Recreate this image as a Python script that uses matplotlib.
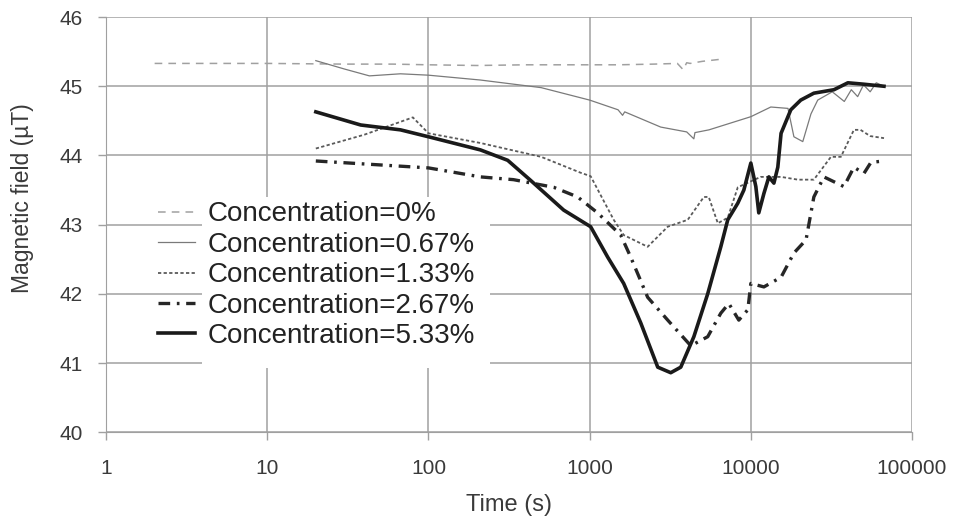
import matplotlib.pyplot as plt
from matplotlib.patches import Rectangle

plt.rcParams['font.family'] = ['Liberation Sans', 'DejaVu Sans']

# concentration 0 %
t0 = [2, 5, 10, 30, 60, 100, 200, 400, 800, 1500, 2500, 3500, 3800, 4000, 4200, 5000, 6500]
b0 = [45.33, 45.33, 45.33, 45.32, 45.32, 45.31, 45.30, 45.31, 45.31, 45.31, 45.32, 45.33, 45.24, 45.34, 45.33, 45.36, 45.39]

# concentration 0.67 %
t1 = [20, 30, 43, 67, 100, 210, 500, 1000, 1500, 1600, 1650, 2760, 4000, 4430, 4500, 5500, 10000, 13300,
      17000, 18500, 21000, 23600, 26000, 32000, 38000, 42000, 46000, 50000, 55000, 60000, 67000]
b1 = [45.37, 45.25, 45.15, 45.18, 45.16, 45.09, 44.98, 44.80, 44.66, 44.58, 44.63, 44.41, 44.34, 44.24, 44.33, 44.37, 44.56, 44.70,
      44.68, 44.27, 44.20, 44.60, 44.80, 44.92, 44.78, 44.95, 44.85, 45.02, 44.92, 45.05, 45.00]

# concentration 1.33 %
t2 = [20, 40, 80, 100, 210, 500, 879, 1014, 1410, 1626, 2290, 3050, 4060, 5110, 5480, 6240, 7190, 8300,
      11500, 15400, 19600, 24600, 31400, 36200, 43600, 47900, 55000, 67000]
b2 = [44.10, 44.30, 44.55, 44.32, 44.18, 43.98, 43.75, 43.70, 43.07, 42.85, 42.68, 42.97, 43.07, 43.40, 43.40, 43.02, 43.10, 43.54,
      43.69, 43.69, 43.65, 43.65, 43.98, 43.98, 44.37, 44.37, 44.28, 44.25]

# concentration 2.67 %
t3 = [20, 100, 210, 337, 598, 842, 1120, 1558, 1798, 2290, 3050, 4240, 5400, 6510, 7300, 8420, 9580, 10000,
      12050, 15400, 18500, 22000, 24600, 28400, 37800, 43600, 50300, 55600, 67000]
b3 = [43.92, 43.82, 43.69, 43.65, 43.54, 43.40, 43.17, 42.85, 42.53, 41.95, 41.62, 41.25, 41.38, 41.72, 41.86, 41.62, 41.77, 42.15,
      42.10, 42.24, 42.59, 42.78, 43.40, 43.69, 43.55, 43.83, 43.74, 43.90, 43.92]

# concentration 5.33 %
t4 = [20, 38, 67, 100, 210, 310, 430, 690, 1014, 1294, 1626, 2074, 2645, 3185, 3675, 4430, 5400, 6510, 7190, 8300,
      9050, 10000, 10740, 11200, 12050, 12940, 13900, 14700, 15400, 17700, 20400, 24600, 32800, 40000, 50000, 67000]
b4 = [44.63, 44.44, 44.37, 44.27, 44.08, 43.93, 43.64, 43.21, 42.97, 42.53, 42.15, 41.58, 40.94, 40.86, 40.94, 41.38, 42.00, 42.68, 43.07, 43.31,
      43.50, 43.89, 43.55, 43.17, 43.45, 43.69, 43.60, 43.83, 44.32, 44.66, 44.80, 44.90, 44.95, 45.05, 45.03, 45.00]

labels = ['Concentration=0%', 'Concentration=0.67%', 'Concentration=1.33%',
          'Concentration=2.67%', 'Concentration=5.33%']
x_ticks = [1, 10, 100, 1000, 10000, 100000]

fig = plt.figure(figsize=(9.56, 5.17), dpi=100)
ax = fig.add_axes([0.111, 0.164, 0.843, 0.803])

ax.plot(t0, b0, color='#a0a0a0', lw=1.1, dashes=(5, 4), label=labels[0])
ax.plot(t1, b1, color='#7a7a7a', lw=0.9, label=labels[1])
ax.plot(t2, b2, color='#5a5a5a', lw=1.3, dashes=(1.8, 1.3), label=labels[2])
ax.plot(t3, b3, color='#262626', lw=2.4, dashes=(3.5, 2.0, 0.8, 2.0), label=labels[3])
ax.plot(t4, b4, color='#1a1a1a', lw=2.6, label=labels[4])

ax.set_xscale('log')
ax.set_xlim(1, 100000)
ax.set_ylim(40, 46)
ax.set_xticks(x_ticks)
ax.set_xticklabels([str(v) for v in x_ticks])
ax.minorticks_off()
ax.set_yticks(range(40, 47))
ax.grid(True, color='#a0a0a0', lw=1.1)
for s in ['top', 'right']:
    ax.spines[s].set_visible(False)
for s in ['left', 'bottom']:
    ax.spines[s].set_color('#a0a0a0')
ax.tick_params(colors='#a0a0a0', labelcolor='#3a3a3a', labelsize=15, length=6, width=1)
ax.tick_params(axis='x', pad=13)
ax.tick_params(axis='y', pad=11)

ax.set_xlabel('Time (s)', fontsize=17, color='#3a3a3a')
ax.set_ylabel('Magnetic field (\u00b5T)', fontsize=16.5, color='#3a3a3a')
ax.xaxis.set_label_coords(0.5, -0.148)
ax.yaxis.set_label_coords(-0.09, 0.564)

# white box behind legend text, hiding the grid there
ax.add_patch(Rectangle((0.119, 0.154), 0.357, 0.412, transform=ax.transAxes,
                       facecolor='white', edgecolor='none', zorder=3))

leg = ax.legend(loc='upper left', bbox_to_anchor=(0.064, 0.556), fontsize=20, frameon=False,
                handlelength=1.33, handletextpad=0.45, labelspacing=0.16, borderpad=0, borderaxespad=0)
for txt in leg.get_texts():
    txt.set_color('#222222')

fig.savefig('out.png', dpi=100)
